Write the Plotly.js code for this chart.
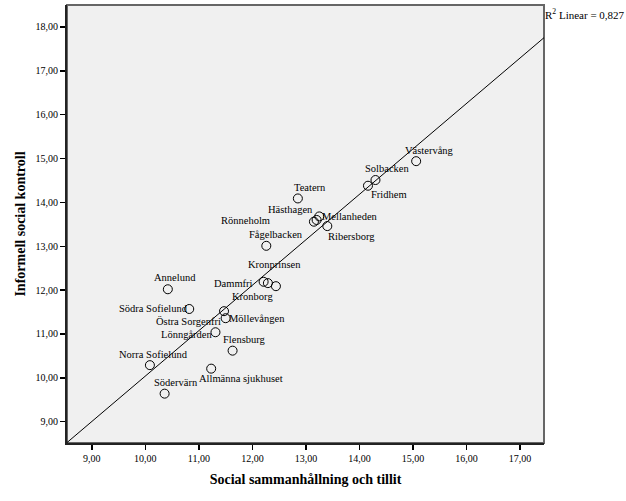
<!DOCTYPE html>
<html>
<head>
<meta charset="utf-8">
<script src="https://cdn.plot.ly/plotly-3.0.1.min.js"></script>
<style>
  body { margin: 0; background: #fff; }
  #chart { width: 626px; height: 501px; }
</style>
</head>
<body>
<div id="chart"></div>
<script>
// stadsdelar (Malmö), values
const areas = [
    "Västervång", "Solbacken", "Fridhem", "Teatern", "Hästhagen", "Mellanheden",
    "Rönneholm", "Ribersborg", "Fågelbacken", "Kronprinsen", "Dammfri", "Kronborg",
    "Annelund", "Södra Sofielund", "Östra Sorgenfri", "Möllevången", "Lönngården",
    "Flensburg", "Norra Sofielund", "Allmänna sjukhuset", "Södervärn"
];
const cohesion = [
    15.06, 14.30, 14.16, 12.85, 13.20, 13.25,
    13.15, 13.40, 12.26, 12.29, 12.21, 12.44,
    10.42, 10.82, 11.47, 11.50, 11.31,
    11.63, 10.085, 11.23, 10.36
];
const control = [
    14.94, 14.51, 14.38, 14.09, 13.60, 13.68,
    13.56, 13.46, 13.01, 12.16, 12.19, 12.09,
    12.02, 11.57, 11.52, 11.36, 11.04,
    10.62, 10.29, 10.21, 9.64
];
const xTicks = [9, 10, 11, 12, 13, 14, 15, 16, 17];
const yTicks = [9, 10, 11, 12, 13, 14, 15, 16, 17, 18];

// where each label sits relative to its point, in pixels (dx right, dy up)
const labelOffsets = [
    [13, 11], [12, 12], [21, -9], [12, 11], [-26, 10], [31, 0],
    [-68, 1], [24, -10], [10, 11], [7, 19], [-30, -2], [-23, -10],
    [7, 12], [-36, 0], [-36, -10], [31, 0], [-29, -2],
    [12, 11], [4, 11], [30, -10], [11, 11]
];

const xRange = [8.536, 17.449];
const yRange = [8.515, 18.5];

// least squares fit, same as the SPSS "fit line at total"
const n = cohesion.length;
const mx = cohesion.reduce((a, b) => a + b, 0) / n;
const my = control.reduce((a, b) => a + b, 0) / n;
let sxy = 0, sxx = 0, syy = 0;
for (let i = 0; i < n; i++) {
    sxy += (cohesion[i] - mx) * (control[i] - my);
    sxx += (cohesion[i] - mx) ** 2;
    syy += (control[i] - my) ** 2;
}
const slope = sxy / sxx;
const intercept = my - slope * mx;
const r2 = (sxy * sxy) / (sxx * syy);

const font = "Liberation Serif, Times New Roman, serif";

const points = {
    x: cohesion,
    y: control,
    type: "scatter",
    mode: "markers",
    marker: { symbol: "circle-open", size: 9, color: "#000", line: { width: 1, color: "#000" } },
    hoverinfo: "text",
    text: areas
};

const fitLine = {
    x: xRange,
    y: xRange.map(v => intercept + slope * v),
    type: "scatter",
    mode: "lines",
    line: { color: "#000", width: 1 },
    hoverinfo: "skip"
};

const annotations = areas.map((name, i) => ({
    x: cohesion[i],
    y: control[i],
    xref: "x",
    yref: "y",
    text: name,
    showarrow: false,
    xanchor: "center",
    yanchor: "middle",
    xshift: labelOffsets[i][0],
    yshift: labelOffsets[i][1],
    font: { family: font, size: 10.5, color: "#000" }
}));

annotations.push({
    xref: "paper",
    yref: "paper",
    x: 1,
    y: 1,
    xanchor: "left",
    yanchor: "top",
    xshift: -1,
    text: "R<sup>2</sup> Linear = " + r2.toFixed(3).replace(".", ","),
    showarrow: false,
    font: { family: font, size: 11, color: "#000" }
});

const axisStyle = {
    tickformat: ".2f",
    ticks: "outside",
    ticklen: 5,
    tickwidth: 1.5,
    tickcolor: "#000",
    tickfont: { family: font, size: 10 },
    showgrid: false,
    zeroline: false,
    showline: true,
    linecolor: "#222",
    linewidth: 2
};

const layout = {
    width: 626,
    height: 501,
    margin: { l: 67, r: 82, t: 5, b: 58 },
    paper_bgcolor: "#fff",
    plot_bgcolor: "#f0f0f0",
    showlegend: false,
    separators: ",.",
    font: { family: font, color: "#000" },
    xaxis: Object.assign({}, axisStyle, {
        range: xRange,
        tickvals: xTicks,
        title: {
            text: "<b>Social sammanhållning och tillit</b>",
            font: { family: font, size: 14 },
            standoff: 11
        }
    }),
    yaxis: Object.assign({}, axisStyle, {
        range: yRange,
        tickvals: yTicks,
        title: {
            text: "<b>Informell social kontroll</b>",
            font: { family: font, size: 14 },
            standoff: 7
        }
    }),
    // grey frame on top and right, like the SPSS chart frame
    shapes: [{
        type: "rect",
        xref: "paper",
        yref: "paper",
        x0: 0, x1: 1, y0: 0, y1: 1,
        line: { color: "#666", width: 2 },
        layer: "below"
    }],
    annotations: annotations
};

Plotly.newPlot("chart", [fitLine, points], layout, { displayModeBar: false, staticPlot: true });
</script>
</body>
</html>
